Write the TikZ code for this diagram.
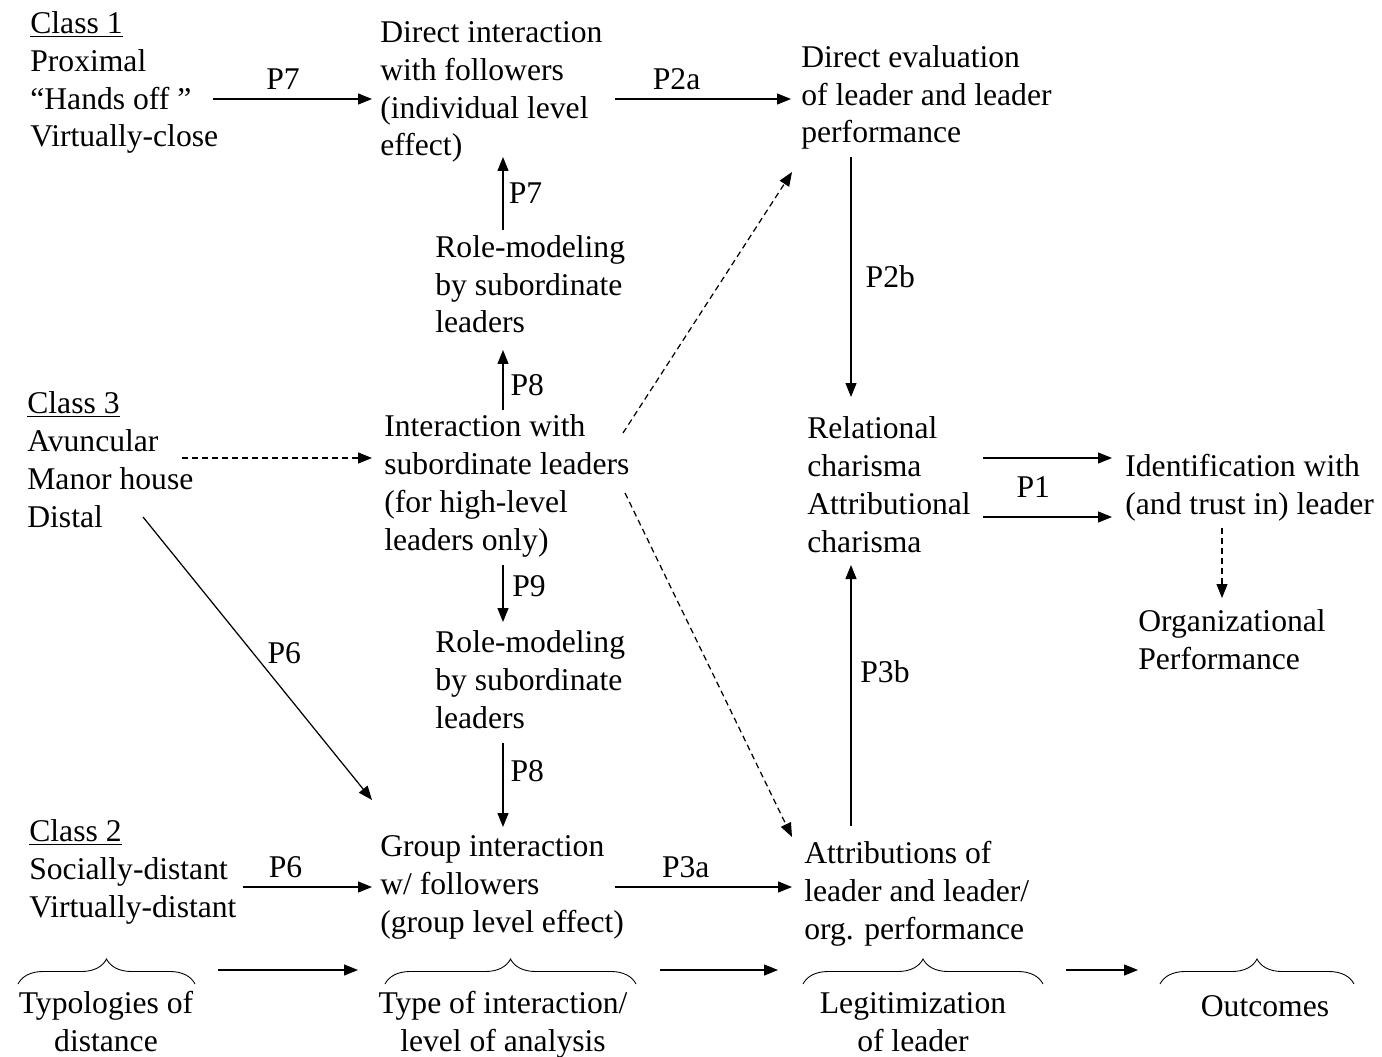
\documentclass[tikz,border=0pt]{standalone}
\usepackage{fontspec}
\setmainfont{Liberation Serif}
\usetikzlibrary{arrows.meta,calc,decorations.pathreplacing}

\tikzset{
  txt/.style={anchor=base west, align=left, inner sep=0pt},
  stage/.style={anchor=base, align=center, inner sep=0pt},
  arr/.style={-{Triangle[length=0.28cm,width=0.22cm]}, line width=0.7pt},
  darr/.style={arr, dash pattern=on 0.12cm off 0.08cm},
  lbl/.style={inner sep=2pt},
  brc/.style={decorate, decoration={brace, amplitude=0.5cm}, line width=0.5pt},
}

\begin{document}
\begin{tikzpicture}[x=0.02cm, y=-0.02cm, every node/.style={font=\fontsize{18}{21.6}\selectfont}]
    \useasboundingbox (0,0) rectangle (1382,1057);

    % Typologies of distance (placed at the baseline of the last line)
    \node[txt] (cls1) at (30,147) {\underline{Class 1}\\Proximal\\“Hands off ”\\Virtually-close};
    \node[txt] (cls3) at (27,527) {\underline{Class 3}\\Avuncular\\Manor house\\Distal};
    \node[txt] (cls2) at (29,917) {\underline{Class 2}\\Socially-distant\\Virtually-distant};

    % Type of interaction
    \node[txt] (dint) at (380,156) {Direct interaction\\with followers\\(individual level\\effect)};
    \node[txt] (role1) at (435,333) {Role-modeling\\by subordinate\\leaders};
    \node[txt] (inter) at (384,550) {Interaction with\\subordinate leaders\\(for high-level\\leaders only)};
    \node[txt] (role2) at (435,728) {Role-modeling\\by subordinate\\leaders};
    \node[txt] (grp) at (380,932) {Group interaction\\w/ followers\\(group level effect)};

    % Legitimization
    \node[txt] (deval) at (801,143) {Direct evaluation\\of leader and leader\\performance};
    \node[txt] (rel) at (807,552) {Relational\\charisma\\Attributional\\charisma};
    \node[txt] (attr) at (804,939) {Attributions of\\leader and leader/\\org. performance};

    % Outcomes
    \node[txt] (ident) at (1125,514) {Identification with\\(and trust in) leader};
    \node[txt] (orgp) at (1138,669) {Organizational\\Performance};

    % Propositions
    \draw[arr] ($(cls1.base west)+(183,-48)$) -- node[lbl, above=3pt, pos=0.44] {P7} ($(dint.base west)+(-8,-57)$);
    \draw[arr] ($(dint.base west)+(235,-57)$) -- node[lbl, above=3pt, pos=0.35] {P2a} ($(deval.base west)+(-10,-44)$);
    \draw[arr] ($(role1.base west)+(68,-103)$) -- node[lbl, right=1pt] {P7} ($(dint.base west)+(123,1)$);
    \draw[arr] ($(inter.base west)+(119,-140)$) -- node[lbl, right=2pt, pos=0.42] {P8} ($(role1.base west)+(68,17)$);
    \draw[arr] ($(inter.base west)+(119,15)$) -- node[lbl, right=3pt, pos=0.38] {P9} ($(role2.base west)+(68,-106)$);
    \draw[arr] ($(role2.base west)+(68,15)$) -- node[lbl, right=2pt, pos=0.34] {P8} ($(grp.base west)+(123,-105)$);
    \draw[arr] ($(cls2.base west)+(214,-30)$) -- node[lbl, above=3pt, pos=0.33] {P6} ($(grp.base west)+(-8,-45)$);
    \draw[arr] ($(cls3.base west)+(116,-10)$) -- node[lbl, right=6pt, pos=0.48] {P6} ($(grp.base west)+(-8,-132)$);
    \draw[arr] ($(grp.base west)+(235,-45)$) -- node[lbl, above=3pt, pos=0.4] {P3a} ($(attr.base west)+(-12,-52)$);
    \draw[arr] ($(deval.base west)+(50,14)$) -- node[lbl, right=6pt] {P2b} ($(rel.base west)+(44,-155)$);
    \draw[arr] ($(attr.base west)+(47,-113)$) -- node[lbl, right=3pt, pos=0.59] {P3b} ($(rel.base west)+(44,13)$);
    \draw[arr] ($(rel.base west)+(176,-94)$) -- ($(ident.base west)+(-13,-56)$);
    \draw[arr] ($(rel.base west)+(176,-35)$) -- node[lbl, above=9pt, pos=0.39] {P1} ($(ident.base west)+(-13,3)$);

    % Dashed links
    \draw[darr] ($(cls3.base west)+(155,-69)$) -- ($(inter.base west)+(-12,-92)$);
    \draw[darr] ($(inter.base west)+(239,-117)$) -- ($(deval.base west)+(-9,29)$);
    \draw[darr] ($(inter.base west)+(241,-57)$) -- ($(attr.base west)+(-12,-102)$);
    \draw[darr] ($(ident.base west)+(97,14)$) -- ($(orgp.base west)+(84,-71)$);

    % Braces
    \foreach \n/\l/\r in {1/18/195, 2/385/636, 3/803/1043, 4/1160/1354} {
        \coordinate (bl\n) at (\l,984);
        \coordinate (br\n) at (\r,984);
        \draw[brc] (bl\n) -- (br\n);
    }
    \draw[arr] ($(br1)+(23,-14)$) -- ($(bl2)+(-27,-14)$);
    \draw[arr] ($(br2)+(24,-14)$) -- ($(bl3)+(-25,-14)$);
    \draw[arr] ($(br3)+(23,-14)$) -- ($(bl4)+(-22,-14)$);

    \node[stage] (typ) at (106,1051) {Typologies of\\distance};
    \node[stage] (lvl) at (503,1051) {Type of interaction/\\level of analysis};
    \node[stage] (leg) at (913,1051) {Legitimization\\of leader};
    \node[stage] (out) at (1265,1016) {Outcomes};
\end{tikzpicture}
\end{document}
